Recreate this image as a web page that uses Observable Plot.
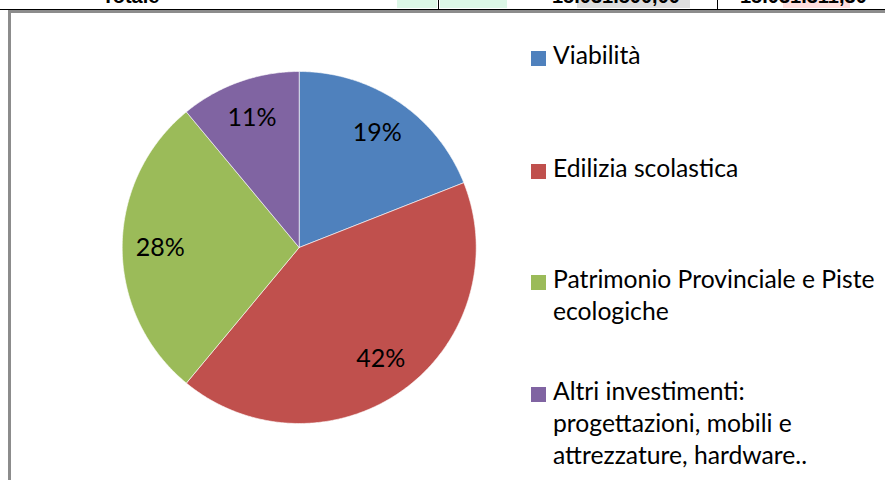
<!DOCTYPE html>
<html>
<head>
<meta charset="utf-8">
<script src="https://cdn.jsdelivr.net/npm/d3@7"></script>
<script src="https://cdn.jsdelivr.net/npm/@observablehq/plot@0.6"></script>
<style>
  html, body { margin: 0; padding: 0; background: #fff; }
  #wrap { position: relative; width: 885px; height: 480px; overflow: hidden; font-family: Lato, "Liberation Sans", sans-serif; color: #000; }
  #wrap svg { position: absolute; left: 0; top: 0; }
  .abs { position: absolute; }
  .cellText { position: absolute; font-family: "Liberation Sans", Arial, sans-serif; font-weight: bold; font-size: 20px; line-height: 20px; white-space: nowrap; }
  .legText { position: absolute; font-size: 24.7px; line-height: 31.7px; white-space: pre; color: #000; }
</style>
</head>
<body>
<div id="wrap"></div>
<script>
// ---- data ----
const categories = [
  "Viabilità",
  "Edilizia scolastica",
  "Patrimonio Provinciale e Piste ecologiche",
  "Altri investimenti: progettazioni, mobili e attrezzature, hardware.."
];
const shares = [19, 42, 28, 11];
const colors = ["#4F81BD", "#C0504D", "#9BBB59", "#8064A2"];
const legendLines = [
  ["Viabilità"],
  ["Edilizia scolastica"],
  ["Patrimonio Provinciale e Piste", "ecologiche"],
  ["Altri investimenti:", "progettazioni, mobili e", "attrezzature, hardware.."]
];
// cut-off table row above the chart
const tableTexts = ["Totale", "15.031.500,00", "15.031.311,30"];

// ---- build ----
const wrap = document.getElementById("wrap");

function addDiv(cls, style, text) {
  const d = document.createElement("div");
  d.className = cls;
  Object.assign(d.style, style);
  if (text != null) d.textContent = text;
  wrap.appendChild(d);
  return d;
}

// table fragment (decoration)
addDiv("abs", {left: "397px", top: "0px", width: "40px", height: "8px", background: "#dcf7e6"});
addDiv("abs", {left: "440px", top: "0px", width: "67px", height: "8px", background: "#dcf7e6"});
addDiv("abs", {left: "577px", top: "0px", width: "113px", height: "8px", background: "#dedede"});
addDiv("abs", {left: "783px", top: "0px", width: "67px", height: "8px", background: "#ffdede"});
addDiv("cellText", {left: "102px", top: "-14px"}, tableTexts[0]);
addDiv("cellText", {left: "552px", top: "-14px"}, tableTexts[1]);
addDiv("cellText", {left: "740px", top: "-14px"}, tableTexts[2]);
addDiv("abs", {left: "438px", top: "0px", width: "1px", height: "9px", background: "#000"});
addDiv("abs", {left: "717px", top: "0px", width: "1px", height: "9px", background: "#000"});
addDiv("abs", {left: "0px", top: "9px", width: "885px", height: "1px", background: "#000"});
// chart frame
addDiv("abs", {left: "8px", top: "10px", width: "877px", height: "3px", background: "#8c8c8c"});
addDiv("abs", {left: "8px", top: "10px", width: "3px", height: "470px", background: "#8c8c8c"});

// pie geometry from data
const arcs = d3.pie().sort(null).value(d => d)(shares);
const pts = [];
arcs.forEach((a, i) => {
  const cat = categories[i];
  pts.push({cat, x: 0, y: 0});
  const n = Math.max(2, Math.ceil((a.endAngle - a.startAngle) / (Math.PI / 360)));
  for (let k = 0; k <= n; k++) {
    const t = a.startAngle + (a.endAngle - a.startAngle) * k / n;
    pts.push({cat, x: Math.sin(t), y: Math.cos(t)});
  }
  pts.push({cat, x: 0, y: 0});
});
const labelR = 0.785;
const labels = arcs.map((a, i) => {
  const m = (a.startAngle + a.endAngle) / 2;
  return {x: labelR * Math.sin(m), y: labelR * Math.cos(m), text: shares[i] + "%"};
});

const chart = Plot.plot({
  width: 885,
  height: 480,
  margin: 0,
  style: {background: "transparent", fontFamily: "Lato, 'Liberation Sans', sans-serif", color: "#000"},
  x: {domain: [-1, 1], range: [121.7, 475.7], axis: null},
  y: {domain: [-1, 1], range: [423, 71], axis: null},
  color: {domain: categories, range: colors},
  marks: [
    Plot.line(pts, {x: "x", y: "y", z: "cat", fill: "cat", stroke: "#ffffff", strokeOpacity: 0.6, strokeWidth: 1, curve: "linear"}),
    Plot.text(labels, {x: "x", y: "y", text: "text", fontSize: 25, fill: "#000"})
  ]
});
wrap.appendChild(chart);

// legend
const baselines = [65, 178, 289, 401];
legendLines.forEach((lines, i) => {
  addDiv("abs", {left: "531px", top: (baselines[i] - 14) + "px", width: "15px", height: "15px", background: colors[i]});
  addDiv("legText", {left: "553px", top: (baselines[i] - 25.8) + "px"}, lines.join("\n"));
});
</script>
</body>
</html>
